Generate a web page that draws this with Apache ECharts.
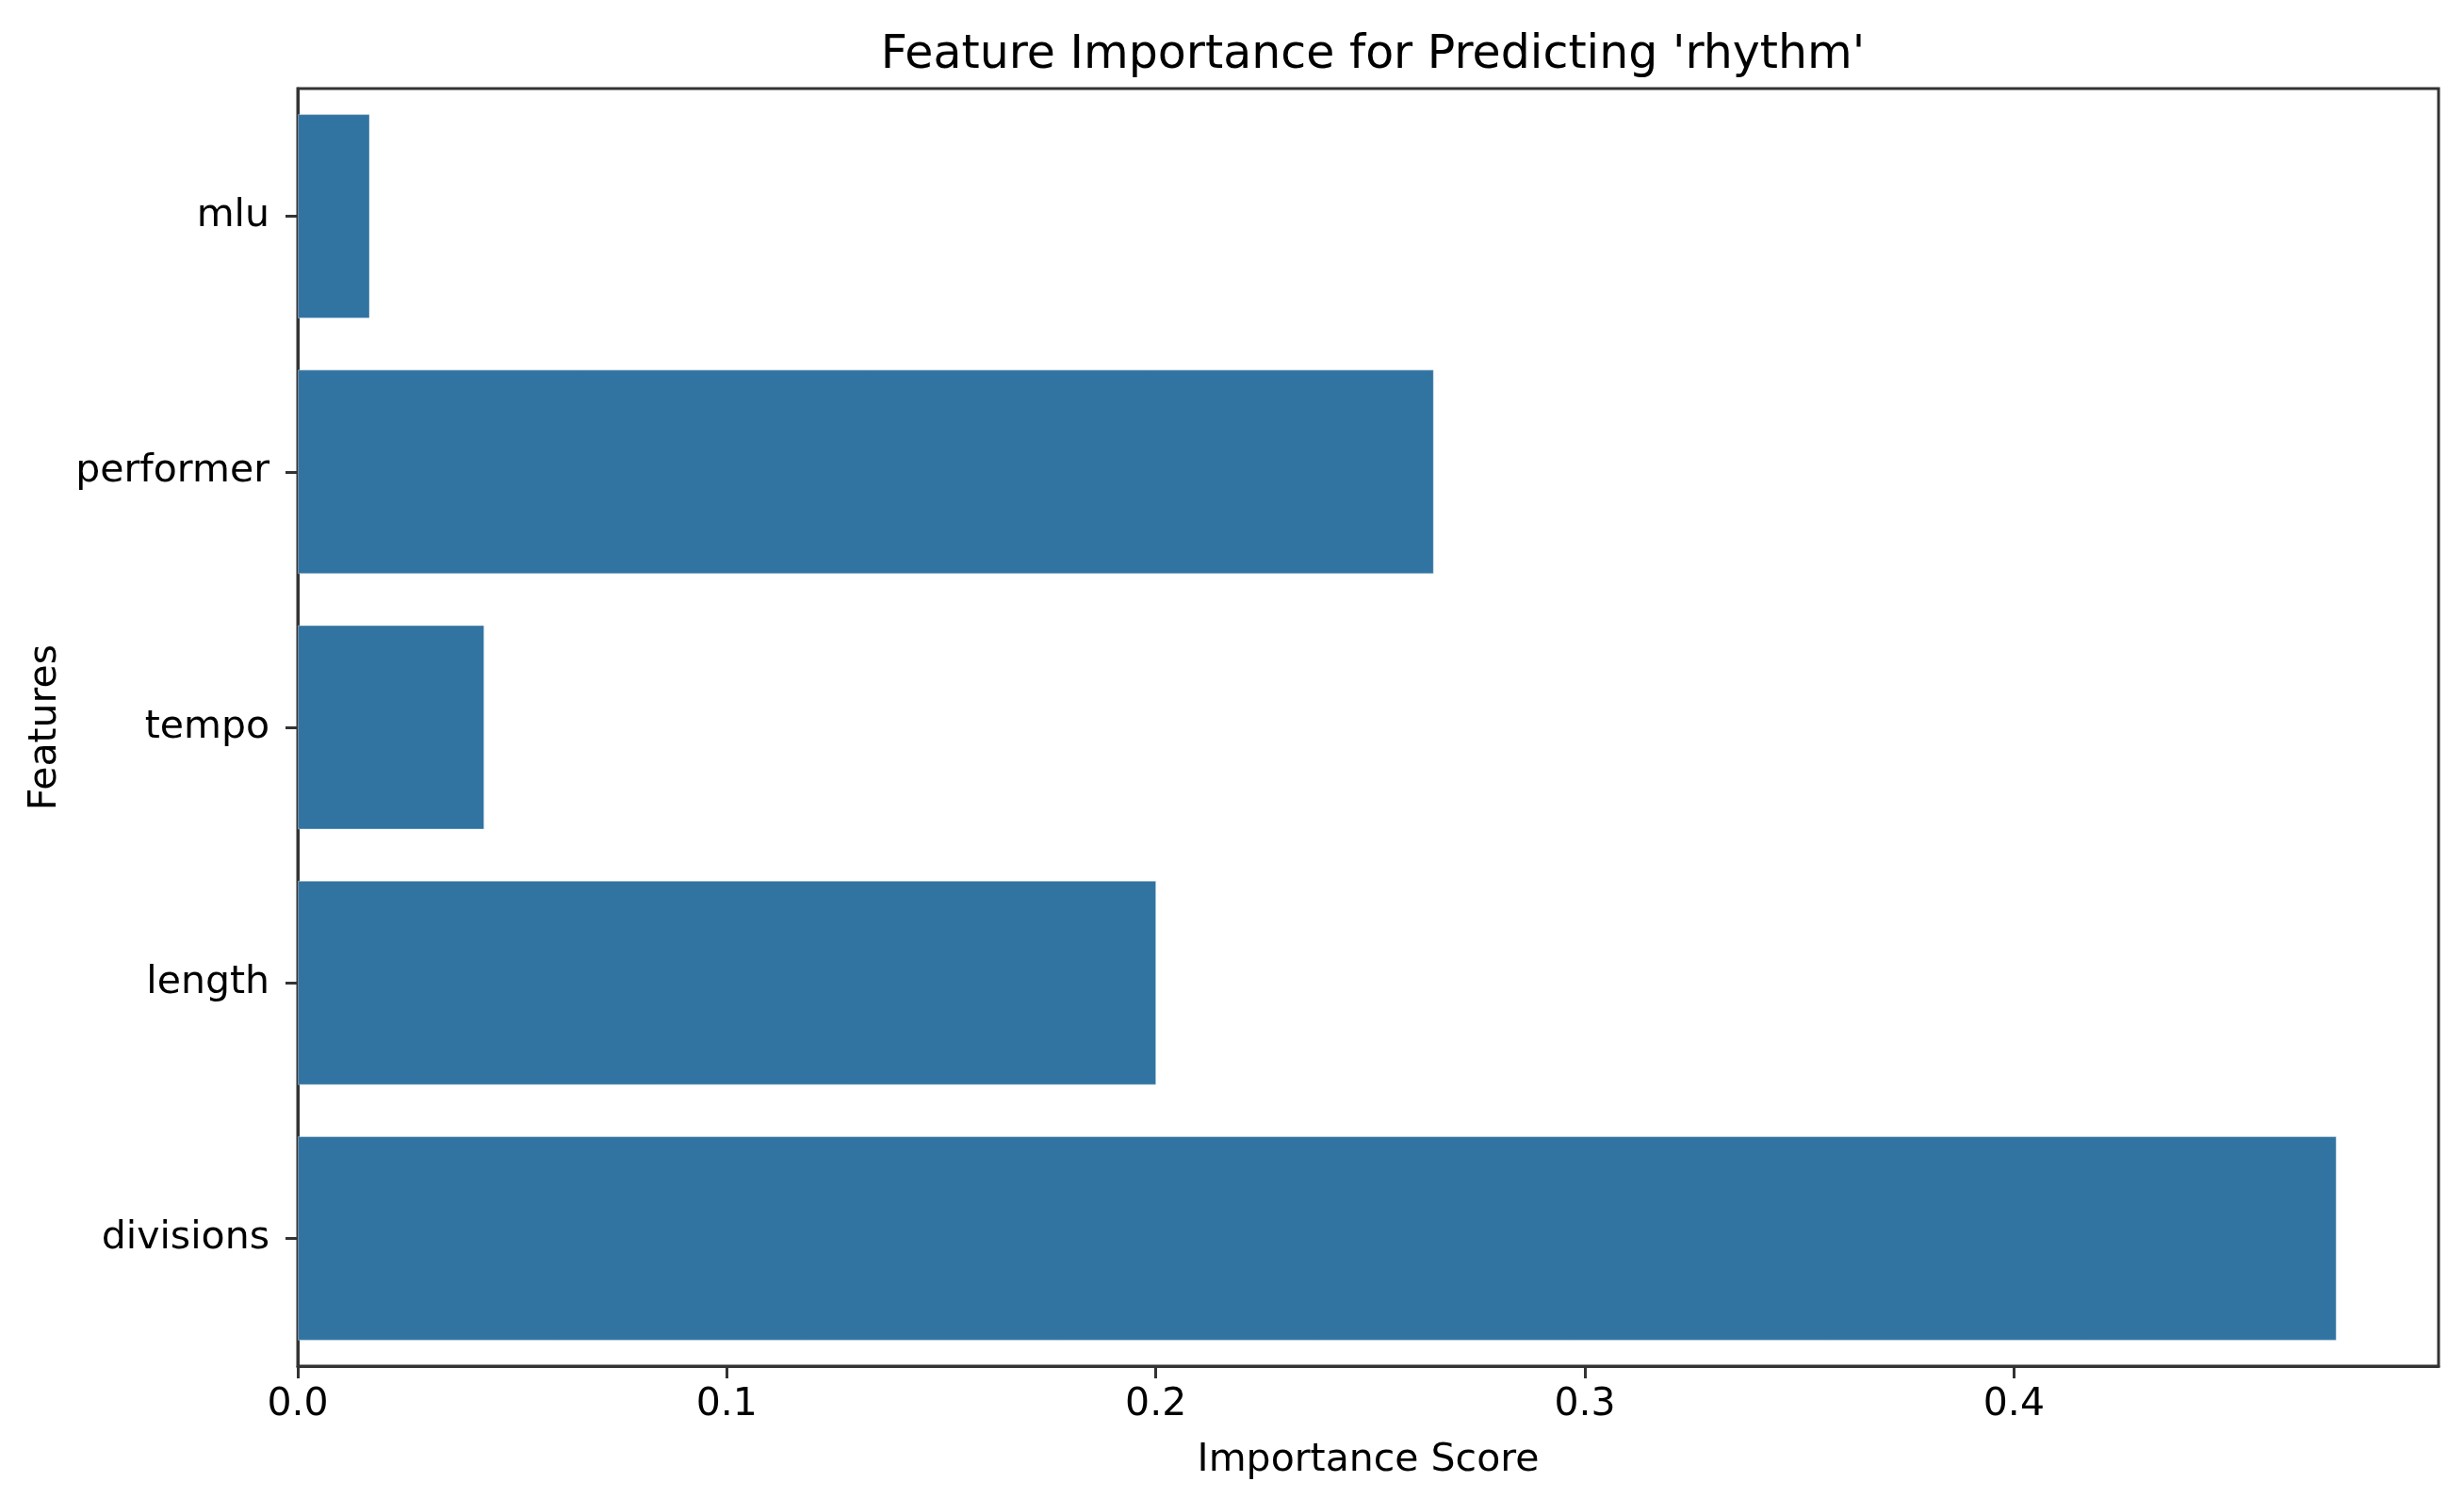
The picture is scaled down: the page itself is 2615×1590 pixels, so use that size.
<!DOCTYPE html>
<html>
<head>
<meta charset="utf-8">
<script src="https://cdn.jsdelivr.net/npm/echarts@6/dist/echarts.min.js"></script>
<style>
  html, body { margin: 0; padding: 0; background: #fff; }
  #chart { width: 2615px; height: 1590px; }
</style>
</head>
<body>
<div id="chart"></div>
<script>
// features, top to bottom as in the picture
const features = ['mlu', 'performer', 'tempo', 'length', 'divisions'];
const importance = [0.0168, 0.2648, 0.0435, 0.2001, 0.4752];
const xTicks = [0, 0.1, 0.2, 0.3, 0.4];

const FONT = 'DejaVu Sans';
const TXT = '#000';
const SPINE = '#333';

let myChart = echarts.init(document.querySelector('#chart'));
myChart.setOption({
    animation: false,
    textStyle: { fontFamily: FONT },
    title: {
        text: "Feature Importance for Predicting 'rhythm'",
        left: 1452,
        textAlign: 'center',
        top: 30,
        textStyle: { fontFamily: FONT, fontSize: 49, fontWeight: 'normal', color: TXT }
    },
    grid: {
        left: 316, right: 27, top: 94, bottom: 140,
        show: true,
        borderColor: SPINE,
        borderWidth: 3,
        backgroundColor: '#fff'
    },
    xAxis: {
        type: 'value',
        min: 0,
        max: function (v) { return v.max * 1.05; },
        interval: 0.1,
        name: 'Importance Score',
        nameLocation: 'middle',
        nameGap: 80,
        nameTextStyle: { fontFamily: FONT, fontSize: 41, color: TXT },
        splitLine: { show: false },
        axisLine: { show: true, lineStyle: { color: SPINE, width: 3 } },
        axisTick: { show: true, length: 13, lineStyle: { color: SPINE, width: 3 } },
        axisLabel: {
            fontFamily: FONT, fontSize: 41, color: TXT, margin: 21,
            showMaxLabel: false,
            formatter: function (v) {
                return xTicks.some(t => Math.abs(t - v) < 1e-9) ? v.toFixed(1) : '';
            }
        }
    },
    yAxis: {
        type: 'category',
        data: features,
        inverse: true,
        name: 'Features',
        nameLocation: 'middle',
        nameGap: 247,
        nameTextStyle: { fontFamily: FONT, fontSize: 41, color: TXT },
        axisLine: { show: true, lineStyle: { color: SPINE, width: 3 } },
        axisTick: { show: true, alignWithLabel: true, length: 13, lineStyle: { color: SPINE, width: 3 } },
        axisLabel: { fontFamily: FONT, fontSize: 41, color: TXT, margin: 30, padding: [8, 0, 0, 0] }
    },
    series: [{
        type: 'bar',
        data: importance,
        barWidth: '80%',
        itemStyle: {
            color: '#3274a1',
            borderColor: 'rgba(255,255,255,0.35)',
            borderWidth: 1
        }
    }]
});
</script>
</body>
</html>
